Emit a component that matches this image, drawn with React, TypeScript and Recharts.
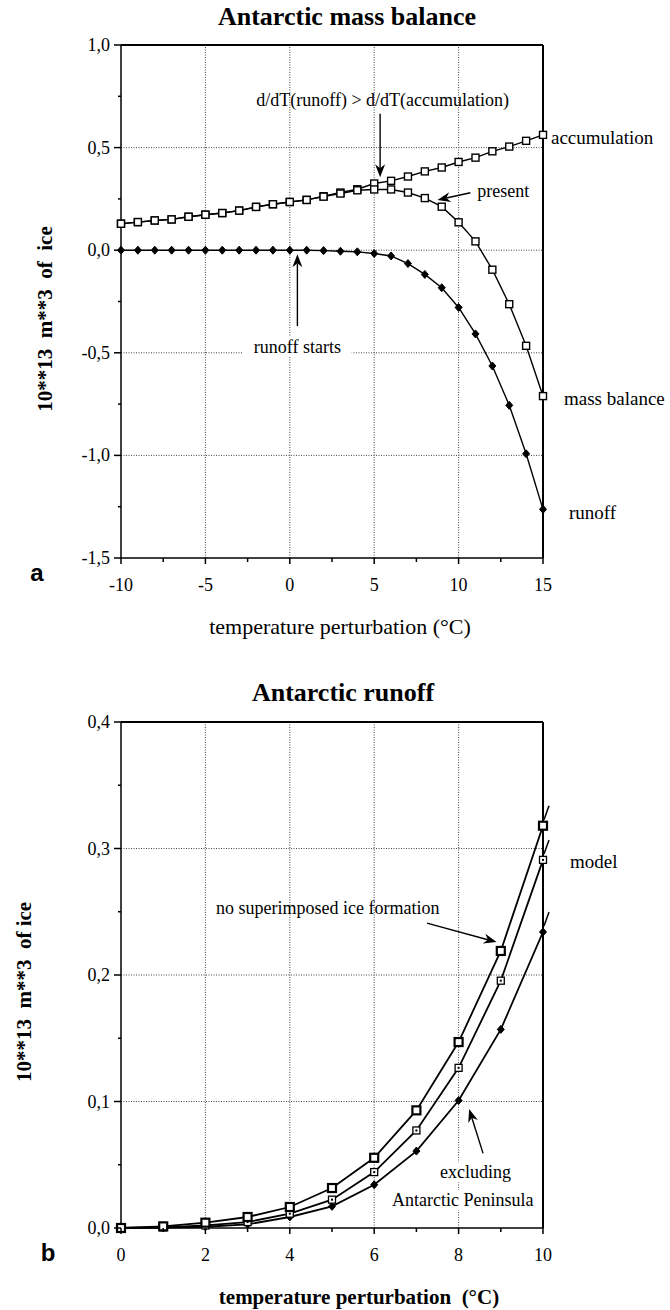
import React from 'react';
import { LineChart, Line, XAxis, YAxis, ReferenceLine, ReferenceDot } from 'recharts';

const FONT = '"Liberation Serif", "Times New Roman", serif';
const SANS = '"Liberation Sans", Arial, sans-serif';

// panel a: Antarctic mass balance
const tempsA = [-10, -9, -8, -7, -6, -5, -4, -3, -2, -1, 0, 1, 2, 3, 4, 5, 6, 7, 8, 9, 10, 11, 12, 13, 14, 15];
const accumulation = [0.129, 0.137, 0.145, 0.15, 0.163, 0.173, 0.181, 0.193, 0.211, 0.224, 0.235, 0.245, 0.263, 0.281, 0.297, 0.325, 0.338, 0.359, 0.384, 0.403, 0.43, 0.451, 0.482, 0.505, 0.533, 0.562];
const massBalance = [0.129, 0.137, 0.145, 0.15, 0.163, 0.173, 0.181, 0.193, 0.211, 0.224, 0.235, 0.245, 0.261, 0.276, 0.292, 0.296, 0.296, 0.281, 0.254, 0.212, 0.136, 0.043, -0.095, -0.263, -0.466, -0.711];
const runoff = [0, 0, 0, 0, 0, 0, 0, 0, 0, 0, 0, 0, -0.002, -0.005, -0.008, -0.016, -0.028, -0.065, -0.118, -0.183, -0.279, -0.408, -0.564, -0.756, -0.992, -1.263];
const xTicksA = [-10, -7.5, -5, -2.5, 0, 2.5, 5, 7.5, 10, 12.5, 15];
const xMajorA = [-10, -5, 0, 5, 10, 15];
const yTicksA = [-1.5, -1.25, -1, -0.75, -0.5, -0.25, 0, 0.25, 0.5, 0.75, 1];
const yMajorA = [-1.5, -1, -0.5, 0, 0.5, 1];

// panel b: Antarctic runoff
const tempsB = [0, 1, 2, 3, 4, 5, 6, 7, 8, 9, 10];
const noSuperimposed = [0, 0.0013, 0.0042, 0.0087, 0.0166, 0.0316, 0.0555, 0.093, 0.147, 0.219, 0.318];
const model = [0, 0.0005, 0.002, 0.0047, 0.0113, 0.0224, 0.0442, 0.0771, 0.1266, 0.1955, 0.291];
const excludingPeninsula = [0, 0.0003, 0.001, 0.0029, 0.0087, 0.0171, 0.0342, 0.0608, 0.1008, 0.157, 0.234];
const xTicksB = [0, 1, 2, 3, 4, 5, 6, 7, 8, 9, 10];
const xMajorB = [0, 2, 4, 6, 8, 10];
const yTicksB = [0, 0.05, 0.1, 0.15, 0.2, 0.25, 0.3, 0.35, 0.4];
const yMajorB = [0, 0.1, 0.2, 0.3, 0.4];

const dataA = tempsA.map((t, i) => ({
    t,
    accumulation: accumulation[i],
    massBalance: massBalance[i],
    runoff: runoff[i],
}));

const dataB = tempsB.map((t, i) => ({
    t,
    noSuperimposed: noSuperimposed[i],
    model: model[i],
    excluding: excludingPeninsula[i],
}));

const isMajor = (majors: number[], v: number) => majors.some((m) => Math.abs(m - v) < 1e-9);
const fmtDec = (v: number) => v.toFixed(1).replace('.', ',');

const makeYTick = (majors: number[]) => (props: any) => {
    const { x, y, payload } = props;
    const major = isMajor(majors, payload.value);
    return (
        <g>
            <line x1={x - (major ? 7 : 3)} y1={y} x2={x} y2={y} stroke="#000" strokeWidth={1.5} />
            {major && (
                <text x={x - 11} y={y} textAnchor="end" dominantBaseline="central" fontSize={18} fontFamily={FONT} fill="#000">
                    {fmtDec(payload.value)}
                </text>
            )}
        </g>
    );
};

const makeXTick = (majors: number[]) => (props: any) => {
    const { x, y, payload } = props;
    const major = isMajor(majors, payload.value);
    return (
        <g>
            <line x1={x} y1={y} x2={x} y2={y + (major ? 6 : 4)} stroke="#000" strokeWidth={1.5} />
            {major && (
                <text x={x} y={y + 27} textAnchor="middle" dominantBaseline="central" fontSize={18} fontFamily={FONT} fill="#000">
                    {payload.value}
                </text>
            )}
        </g>
    );
};

// marker shapes
type Marker = 'square' | 'boldSquare' | 'dotSquare' | 'diamond';

const drawMarker = (kind: Marker, cx: number, cy: number) => {
    if (kind === 'square') {
        return <rect x={cx - 3.5} y={cy - 3.5} width={7} height={7} fill="#fff" stroke="#000" strokeWidth={1.4} />;
    }
    if (kind === 'boldSquare') {
        return <rect x={cx - 4} y={cy - 4} width={8} height={8} fill="#fff" stroke="#000" strokeWidth={2.2} />;
    }
    if (kind === 'dotSquare') {
        return (
            <g>
                <rect x={cx - 3.5} y={cy - 3.5} width={7} height={7} fill="#fff" stroke="#000" strokeWidth={1.3} />
                <rect x={cx - 1} y={cy - 1} width={2} height={2} fill="#000" />
            </g>
        );
    }
    return <polygon points={`${cx},${cy - 4} ${cx + 3.5},${cy} ${cx},${cy + 4} ${cx - 3.5},${cy}`} fill="#000" stroke="#000" strokeWidth={1} />;
};

const makeDot = (kind: Marker, last: number, endLabel?: { text: string; dx: number; dy: number }, slash?: boolean) => (props: any) => {
    const { cx, cy, index } = props;
    if (cx == null || cy == null) return <g key={index} />;
    return (
        <g key={index}>
            {slash && index === last && (
                <line x1={cx + 1} y1={cy - 6} x2={cx + 6} y2={cy - 20} stroke="#000" strokeWidth={1.5} />
            )}
            {drawMarker(kind, cx, cy)}
            {endLabel && index === last && (
                <text x={cx + endLabel.dx} y={cy + endLabel.dy} dominantBaseline="central" fontSize={19} fontFamily={FONT} fill="#000">
                    {endLabel.text}
                </text>
            )}
        </g>
    );
};

// annotation helpers
const Arrow = (p: any) => {
    const { x1, y1, x2, y2 } = p;
    const ang = Math.atan2(y2 - y1, x2 - x1);
    const L = 13;
    const Wd = 5;
    const c = Math.cos(ang);
    const s = Math.sin(ang);
    const bx = x2 - L * c;
    const by = y2 - L * s;
    const nx = bx + 4 * c;
    const ny = by + 4 * s;
    return (
        <g>
            <line x1={x1} y1={y1} x2={nx} y2={ny} stroke="#000" strokeWidth={1.4} />
            <polygon
                points={`${x2},${y2} ${bx - s * Wd},${by + c * Wd} ${nx},${ny} ${bx + s * Wd},${by - c * Wd}`}
                fill="#000"
            />
        </g>
    );
};

const makeNote = (text: string, anchor: 'start' | 'middle' = 'middle', bg = false, size = 18) => (p: any) => {
    const { cx, cy } = p;
    const w = text.length * size * 0.43;
    const left = anchor === 'middle' ? cx - w / 2 : cx;
    return (
        <g>
            {bg && <rect x={left - 4} y={cy - 10} width={w + 8} height={20} fill="#fff" />}
            <text x={cx} y={cy} textAnchor={anchor} dominantBaseline="central" fontSize={size} fontFamily={FONT} fill="#000">
                {text}
            </text>
        </g>
    );
};

const gridStroke = { stroke: '#444', strokeWidth: 1, strokeDasharray: '1 1.5' };

const Title = ({ text, cx, cy, size, bold = true, family = FONT, rotate = false, pre = false }: any) => (
    <div
        style={{
            position: 'absolute',
            left: cx - 200,
            top: cy - 18,
            width: 400,
            height: 36,
            lineHeight: '36px',
            textAlign: 'center',
            fontFamily: family,
            fontSize: size,
            fontWeight: bold ? 'bold' : 'normal',
            transform: rotate ? 'rotate(-90deg)' : undefined,
            whiteSpace: pre ? 'pre' : 'nowrap',
        }}
    >
        {text}
    </div>
);

export default function App() {
    const lastA = tempsA.length - 1;
    const lastB = tempsB.length - 1;
    return (
        <div style={{ position: 'absolute', left: 0, top: 0, width: 670, height: 1310, background: '#fff', color: '#000' }}>
            <Title text="Antarctic mass balance" cx={347} cy={17} size={26} />
            <Title text="10**13  m**3  of  ice" cx={45} cy={319} size={21} rotate pre />
            <Title text="temperature perturbation (°C)" cx={340} cy={627} size={22} bold={false} />
            <Title text="a" cx={37} cy={573} size={24} family={SANS} />

            <Title text="Antarctic runoff" cx={343} cy={693} size={26} />
            <Title text="10**13  m**3  of ice" cx={24} cy={992} size={21} rotate pre />
            <Title text="temperature perturbation  (°C)" cx={359} cy={1297} size={21} pre />
            <Title text="b" cx={48} cy={1253} size={24} family={SANS} />

            <div style={{ position: 'absolute', left: 0, top: 0 }}>
                <LineChart width={670} height={660} data={dataA} margin={{ top: 45, right: 127, left: 0, bottom: 2 }}>
                    <XAxis
                        dataKey="t"
                        type="number"
                        domain={[-10, 15]}
                        ticks={xTicksA}
                        interval={0}
                        height={100}
                        tickSize={0}
                        tickMargin={0}
                        tickLine={false}
                        axisLine={{ stroke: '#000', strokeWidth: 1.5 }}
                        tick={makeXTick(xMajorA)}
                    />
                    <YAxis
                        type="number"
                        domain={[-1.5, 1]}
                        ticks={yTicksA}
                        interval={0}
                        width={121}
                        tickSize={0}
                        tickMargin={0}
                        tickLine={false}
                        axisLine={{ stroke: '#000', strokeWidth: 1.5 }}
                        tick={makeYTick(yMajorA)}
                    />
                    {xMajorA.slice(1, -1).map((v) => (
                        <ReferenceLine key={`gx${v}`} x={v} {...gridStroke} />
                    ))}
                    {yMajorA.slice(1, -1).map((v) => (
                        <ReferenceLine key={`gy${v}`} y={v} {...gridStroke} />
                    ))}
                    <ReferenceLine y={1} stroke="#000" strokeWidth={2} />
                    <ReferenceLine x={15} stroke="#000" strokeWidth={2} />

                    <ReferenceDot x={0.45} y={-0.47} r={0} ifOverflow="visible" shape={makeNote('runoff starts', 'middle', true)} />
                    <ReferenceLine segment={[{ x: 0.45, y: -0.37 }, { x: 0.45, y: -0.02 }]} ifOverflow="visible" shape={Arrow} />
                    <ReferenceDot x={5.5} y={0.73} r={0} ifOverflow="visible" shape={makeNote('d/dT(runoff) > d/dT(accumulation)')} />
                    <ReferenceLine segment={[{ x: 5.35, y: 0.665 }, { x: 5.35, y: 0.355 }]} ifOverflow="visible" shape={Arrow} />
                    <ReferenceDot x={11.1} y={0.29} r={0} ifOverflow="visible" shape={makeNote('present', 'start')} />
                    <ReferenceLine segment={[{ x: 10.7, y: 0.28 }, { x: 8.75, y: 0.245 }]} ifOverflow="visible" shape={Arrow} />

                    <Line
                        dataKey="accumulation"
                        type="linear"
                        stroke="#000"
                        strokeWidth={1.4}
                        isAnimationActive={false}
                        dot={makeDot('square', lastA, { text: 'accumulation', dx: 8, dy: 3 })}
                    />
                    <Line
                        dataKey="runoff"
                        type="linear"
                        stroke="#000"
                        strokeWidth={1.4}
                        isAnimationActive={false}
                        dot={makeDot('diamond', lastA, { text: 'runoff', dx: 26, dy: 3 })}
                    />
                    <Line
                        dataKey="massBalance"
                        type="linear"
                        stroke="#000"
                        strokeWidth={1.4}
                        isAnimationActive={false}
                        dot={makeDot('square', lastA, { text: 'mass balance', dx: 21, dy: 2 })}
                    />
                </LineChart>
            </div>

            <div style={{ position: 'absolute', left: 0, top: 680 }}>
                <LineChart width={670} height={620} data={dataB} margin={{ top: 42, right: 127, left: 0, bottom: 2 }}>
                    <XAxis
                        dataKey="t"
                        type="number"
                        domain={[0, 10]}
                        ticks={xTicksB}
                        interval={0}
                        height={70}
                        tickSize={0}
                        tickMargin={0}
                        tickLine={false}
                        axisLine={{ stroke: '#000', strokeWidth: 1.5 }}
                        tick={makeXTick(xMajorB)}
                    />
                    <YAxis
                        type="number"
                        domain={[0, 0.4]}
                        ticks={yTicksB}
                        interval={0}
                        width={121}
                        tickSize={0}
                        tickMargin={0}
                        tickLine={false}
                        axisLine={{ stroke: '#000', strokeWidth: 1.5 }}
                        tick={makeYTick(yMajorB)}
                    />
                    {xMajorB.slice(1, -1).map((v) => (
                        <ReferenceLine key={`gx${v}`} x={v} {...gridStroke} />
                    ))}
                    {yMajorB.slice(1, -1).map((v) => (
                        <ReferenceLine key={`gy${v}`} y={v} {...gridStroke} />
                    ))}
                    <ReferenceLine y={0.4} stroke="#000" strokeWidth={2} />
                    <ReferenceLine x={10} stroke="#000" strokeWidth={2} />

                    <ReferenceDot x={4.9} y={0.253} r={0} ifOverflow="visible" shape={makeNote('no superimposed ice formation')} />
                    <ReferenceLine segment={[{ x: 7.25, y: 0.241 }, { x: 8.9, y: 0.226 }]} ifOverflow="visible" shape={Arrow} />
                    <ReferenceDot x={8.4} y={0.044} r={0} ifOverflow="visible" shape={makeNote('excluding', 'middle', true)} />
                    <ReferenceDot x={8.1} y={0.022} r={0} ifOverflow="visible" shape={makeNote('Antarctic Peninsula', 'middle', true)} />
                    <ReferenceLine segment={[{ x: 8.58, y: 0.059 }, { x: 8.25, y: 0.094 }]} ifOverflow="visible" shape={Arrow} />

                    <Line
                        dataKey="excluding"
                        type="linear"
                        stroke="#000"
                        strokeWidth={1.8}
                        isAnimationActive={false}
                        dot={makeDot('diamond', lastB, undefined, true)}
                    />
                    <Line
                        dataKey="model"
                        type="linear"
                        stroke="#000"
                        strokeWidth={1.8}
                        isAnimationActive={false}
                        dot={makeDot('dotSquare', lastB, { text: 'model', dx: 27, dy: 2 }, true)}
                    />
                    <Line
                        dataKey="noSuperimposed"
                        type="linear"
                        stroke="#000"
                        strokeWidth={1.8}
                        isAnimationActive={false}
                        dot={makeDot('boldSquare', lastB, undefined, true)}
                    />
                </LineChart>
            </div>
        </div>
    );
}
